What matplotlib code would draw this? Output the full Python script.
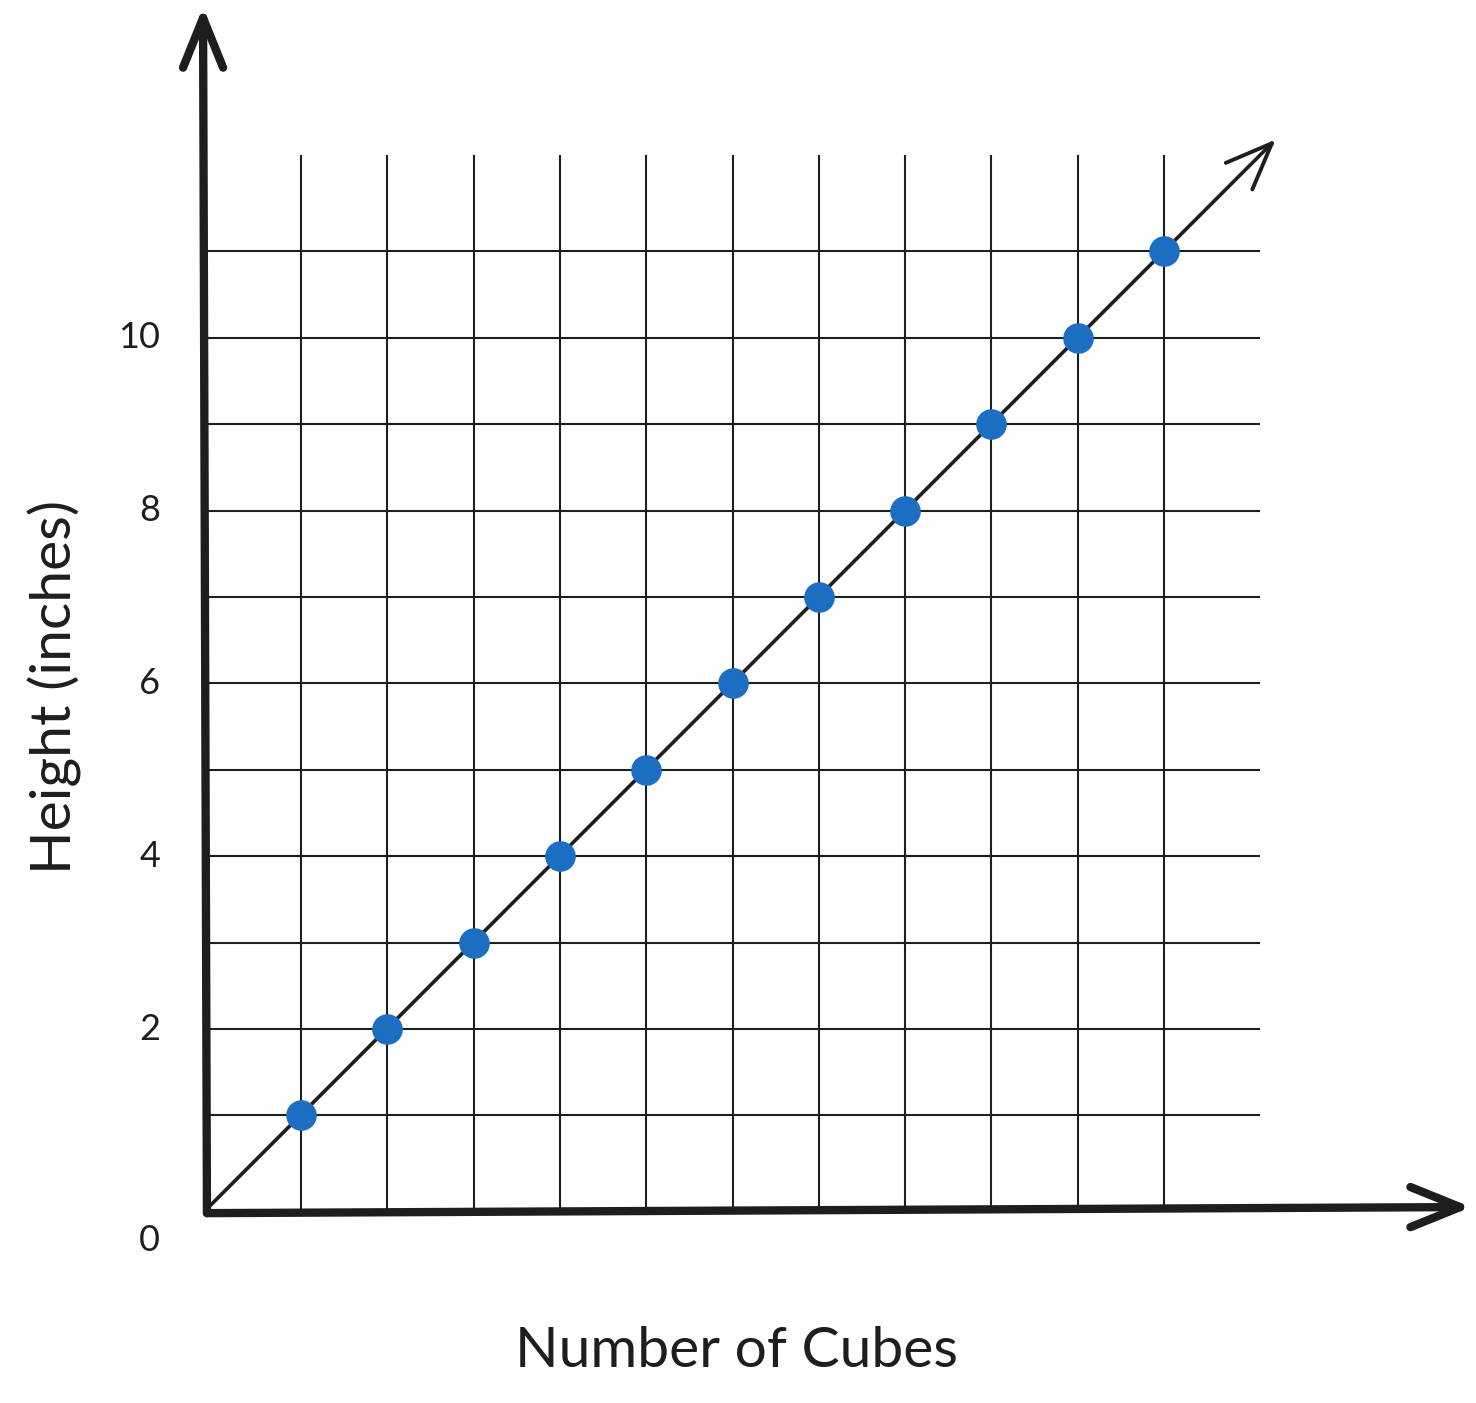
import matplotlib.pyplot as plt
import numpy as np

# data: height of stacked cubes
cubes = [1, 2, 3, 4, 5, 6, 7, 8, 9, 10, 11]
height = [1, 2, 3, 4, 5, 6, 7, 8, 9, 10, 11]
y_ticks = [0, 2, 4, 6, 8, 10]

plt.rcParams['font.family'] = ['Lato', 'DejaVu Sans']
ink = '#1e1e1e'

fig = plt.figure(figsize=(14.76, 14.03), dpi=100)
ax = fig.add_axes([0, 0, 1, 1])
ax.set_xlim(-2.488, 14.615)
ax.set_ylim(-2.327, 13.908)
ax.axis('off')


def chevron(tip, direction, length=0.62, spread=22):
    # open arrow head drawn back from the tip
    d = np.array(direction, dtype=float)
    d = d / np.hypot(*d)
    for sign in (1, -1):
        a = np.deg2rad(180 + sign * spread)
        r = np.array([d[0] * np.cos(a) - d[1] * np.sin(a),
                      d[0] * np.sin(a) + d[1] * np.cos(a)])
        end = np.array(tip) + r * length
        yield [tip[0], end[0]], [tip[1], end[1]]


# grid
grid_top = 12.1
for x in cubes:
    ax.plot([x, x], [-0.1, grid_top], color=ink, lw=1.5, zorder=1)
for y in height:
    ax.plot([-0.08, grid_top], [y, y], color=ink, lw=1.5, zorder=1)

# axes, drawn by hand
origin = (-0.09, -0.13)
y_tip = (-0.135, 13.7)
x_tip = (14.43, -0.06)
ax.plot([origin[0], y_tip[0]], [origin[1], y_tip[1]], color=ink, lw=6,
        solid_capstyle='round', zorder=3)
ax.plot([origin[0], x_tip[0]], [origin[1], x_tip[1]], color=ink, lw=6,
        solid_capstyle='round', zorder=3)
for xs, ys in chevron(y_tip, (0, 1)):
    ax.plot(xs, ys, color=ink, lw=6, solid_capstyle='round', zorder=3)
for xs, ys in chevron(x_tip, (1, 0)):
    ax.plot(xs, ys, color=ink, lw=6, solid_capstyle='round', zorder=3)

# trend line y = x with arrow
d_tip = (12.25, 12.25)
ax.plot([origin[0], d_tip[0]], [origin[1] + 0.05, d_tip[1]], color=ink, lw=2.6,
        solid_capstyle='round', zorder=2)
for xs, ys in chevron(d_tip, (1, 1), length=0.58, spread=22):
    ax.plot(xs, ys, color=ink, lw=2.8, solid_capstyle='round', zorder=2)

# points
ax.plot(cubes, height, 'o', color='#1b6ec2', markersize=21, zorder=4)

# tick labels
for t in y_ticks:
    ty = t if t else -0.45
    ax.text(-0.63, ty, str(t), ha='right', va='center', fontsize=26, color=ink)

ax.text(6.05, -1.73, 'Number of Cubes', ha='center', va='center',
        fontsize=41, color=ink)
ax.text(-1.85, 5.96, 'Height (inches)', ha='center', va='center',
        rotation=90, fontsize=41, color=ink)

fig.savefig('out.png', dpi=100)
